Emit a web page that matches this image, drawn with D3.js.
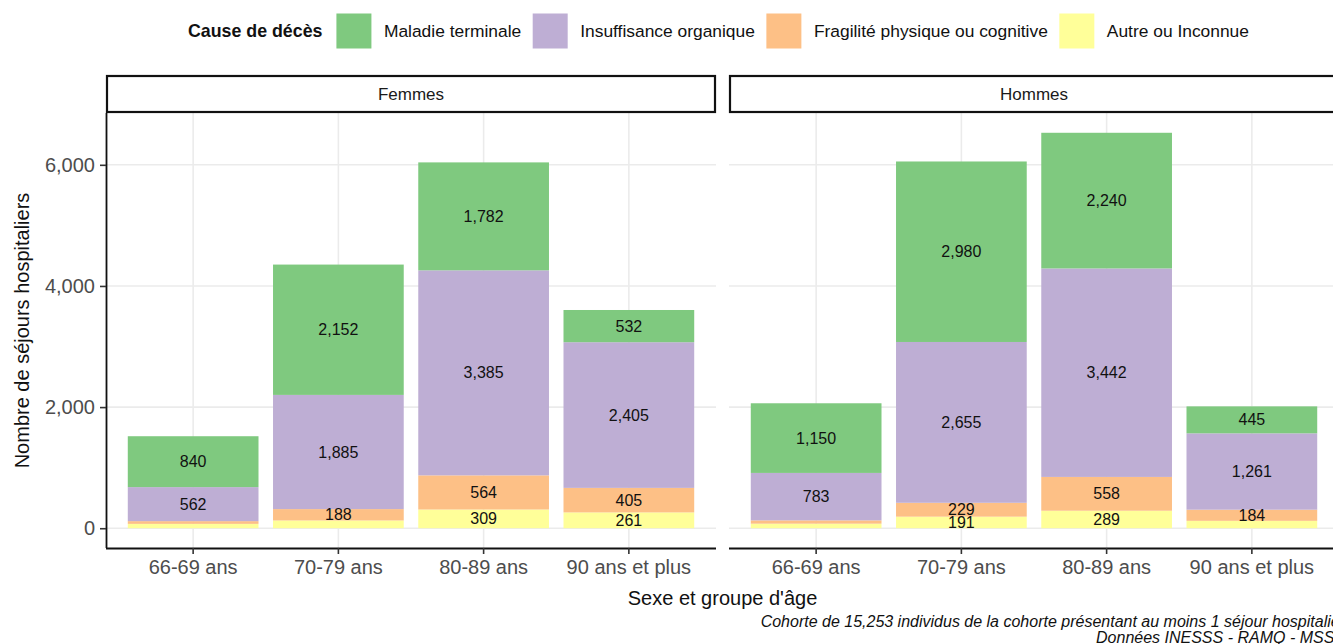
<!DOCTYPE html>
<html>
<head>
<meta charset="utf-8">
<script src="https://cdn.jsdelivr.net/npm/d3@7"></script>
<style>
  html, body { margin: 0; padding: 0; background: #fff; }
  svg { display: block; font-family: "Liberation Sans", Arial, sans-serif; }
</style>
</head>
<body>
<svg id="chart" width="1333" height="644"></svg>
<script>
// ---- Data ----
const categories = ["66-69 ans", "70-79 ans", "80-89 ans", "90 ans et plus"];
const sexes = ["Femmes", "Hommes"];
const causes = ["Maladie terminale", "Insuffisance organique", "Fragilité physique ou cognitive", "Autre ou Inconnue"];
const causeColors = ["#7fc97f", "#beaed4", "#fdc086", "#ffff99"];

const femmesMaladie    = [840, 2152, 1782, 532];
const femmesInsuff     = [562, 1885, 3385, 2405];
const femmesFragilite  = [45, 188, 564, 405];
const femmesAutre      = [72, 128, 309, 261];

const hommesMaladie    = [1150, 2980, 2240, 445];
const hommesInsuff     = [783, 2655, 3442, 1261];
const hommesFragilite  = [55, 229, 558, 184];
const hommesAutre      = [75, 191, 289, 122];

const yTicks = [0, 2000, 4000, 6000];
const labelMin = 150;

const legendTitle = "Cause de décès";
const xTitle = "Sexe et groupe d'âge";
const yTitle = "Nombre de séjours hospitaliers";
const captionLines = [
  "Cohorte de 15,253 individus de la cohorte présentant au moins 1 séjour hospitalier",
  "Données INESSS - RAMQ - MSSS"
];

// ---- Build table ----
const seriesBySex = {
  "Femmes": [femmesMaladie, femmesInsuff, femmesFragilite, femmesAutre],
  "Hommes": [hommesMaladie, hommesInsuff, hommesFragilite, hommesAutre]
};
// stack order from bottom: Autre, Fragilité, Insuffisance, Maladie
const stackOrder = [3, 2, 1, 0];

const rows = [];
sexes.forEach(s => {
  categories.forEach((c, i) => {
    let y0 = 0;
    stackOrder.forEach(k => {
      const v = seriesBySex[s][k][i];
      rows.push({ sex: s, cat: c, cause: k, value: v, y0: y0, y1: y0 + v });
      y0 += v;
    });
  });
});
const maxTotal = d3.max(rows, d => d.y1);

// ---- Layout ----
const svg = d3.select("#chart");
const panelTop = 113, panelBottom = 548;
const stripTop = 76, stripH = 36;
const panels = { "Femmes": [106, 716], "Hommes": [729, 1339] };

const y = d3.scaleLinear()
  .domain([-0.05 * maxTotal, maxTotal * 1.05])
  .range([panelBottom, panelTop]);

const fmt = d3.format(",");
const gridColor = "#ebebeb";

sexes.forEach((s, si) => {
  const [x0, x1] = panels[s];
  const x = d3.scaleBand().domain(categories).range([x0, x1])
    .paddingInner(0.1).paddingOuter(0.15);

  const g = svg.append("g");

  // gridlines
  g.selectAll("line.hgrid").data(yTicks).enter().append("line")
    .attr("x1", x0).attr("x2", x1)
    .attr("y1", d => y(d)).attr("y2", d => y(d))
    .attr("stroke", gridColor).attr("stroke-width", 1.6);
  g.selectAll("line.vgrid").data(categories).enter().append("line")
    .attr("x1", d => x(d) + x.bandwidth() / 2).attr("x2", d => x(d) + x.bandwidth() / 2)
    .attr("y1", panelTop).attr("y2", panelBottom)
    .attr("stroke", gridColor).attr("stroke-width", 1.6);

  // bars
  const data = rows.filter(r => r.sex === s);
  g.selectAll("rect.bar").data(data).enter().append("rect")
    .attr("x", d => x(d.cat))
    .attr("width", x.bandwidth())
    .attr("y", d => y(d.y1))
    .attr("height", d => y(d.y0) - y(d.y1))
    .attr("fill", d => causeColors[d.cause]);

  // labels
  g.selectAll("text.lab").data(data.filter(d => d.value >= labelMin)).enter().append("text")
    .attr("x", d => x(d.cat) + x.bandwidth() / 2)
    .attr("y", d => y((d.y0 + d.y1) / 2))
    .attr("dy", "0.35em")
    .attr("text-anchor", "middle")
    .attr("font-size", 16)
    .attr("fill", "#111")
    .text(d => fmt(d.value));

  // strip
  g.append("rect")
    .attr("x", x0 + 1).attr("y", stripTop)
    .attr("width", x1 - x0 - 2).attr("height", stripH)
    .attr("fill", "#fff").attr("stroke", "#111").attr("stroke-width", 2.2);
  g.append("text")
    .attr("x", (x0 + x1) / 2).attr("y", stripTop + stripH / 2)
    .attr("dy", "0.35em").attr("text-anchor", "middle")
    .attr("font-size", 17).attr("fill", "#1a1a1a")
    .text(s);

  // x axis
  const xAxis = d3.axisBottom(x).tickSize(6).tickPadding(6);
  const xa = g.append("g").attr("transform", `translate(0,${panelBottom})`).call(xAxis);
  xa.select(".domain").attr("stroke", "#111").attr("stroke-width", 1.8)
    .attr("d", `M${x0},0.5H${x1}`);
  xa.selectAll(".tick line").attr("stroke", "#333").attr("stroke-width", 1.6);
  xa.selectAll(".tick text").attr("font-size", 20).attr("fill", "#4d4d4d")
    .attr("font-family", "Liberation Sans, Arial, sans-serif");

  // y axis only on left panel
  if (si === 0) {
    const yAxis = d3.axisLeft(y).tickValues(yTicks).tickFormat(fmt).tickSize(6).tickPadding(5);
    const ya = g.append("g").attr("transform", `translate(${x0},0)`).call(yAxis);
    ya.select(".domain").attr("stroke", "#111").attr("stroke-width", 1.8)
      .attr("d", `M0.5,${panelTop}V${panelBottom}`);
    ya.selectAll(".tick line").attr("stroke", "#333").attr("stroke-width", 1.6);
    ya.selectAll(".tick text").attr("font-size", 20).attr("fill", "#4d4d4d")
      .attr("font-family", "Liberation Sans, Arial, sans-serif");
  }
});

// axis titles
svg.append("text")
  .attr("x", (106 + 1339) / 2).attr("y", 605)
  .attr("text-anchor", "middle").attr("font-size", 20).attr("fill", "#111")
  .text(xTitle);
svg.append("text")
  .attr("transform", `translate(29,${(panelTop + panelBottom) / 2}) rotate(-90)`)
  .attr("text-anchor", "middle").attr("font-size", 20).attr("fill", "#111")
  .text(yTitle);

// caption
svg.selectAll("text.cap").data(captionLines).enter().append("text")
  .attr("x", 1345).attr("y", (d, i) => 627 + i * 16)
  .attr("text-anchor", "end").attr("font-size", 16).attr("font-style", "italic")
  .attr("fill", "#111")
  .text(d => d);

// legend
const leg = svg.append("g");
let lx = 188;
const ly = 31;
const lt = leg.append("text").attr("x", lx).attr("y", ly).attr("dy", "0.35em")
  .attr("font-size", 17.8).attr("font-weight", "bold").attr("fill", "#111")
  .text(legendTitle);
lx += lt.node().getComputedTextLength() + 14;
causes.forEach((c, i) => {
  leg.append("rect").attr("x", lx).attr("y", ly - 17.5).attr("width", 35).attr("height", 35)
    .attr("fill", causeColors[i]);
  lx += 35 + 12.5;
  const t = leg.append("text").attr("x", lx).attr("y", ly).attr("dy", "0.35em")
    .attr("font-size", 17.4).attr("fill", "#111").text(c);
  lx += t.node().getComputedTextLength() + 11.5;
});
</script>
</body>
</html>
